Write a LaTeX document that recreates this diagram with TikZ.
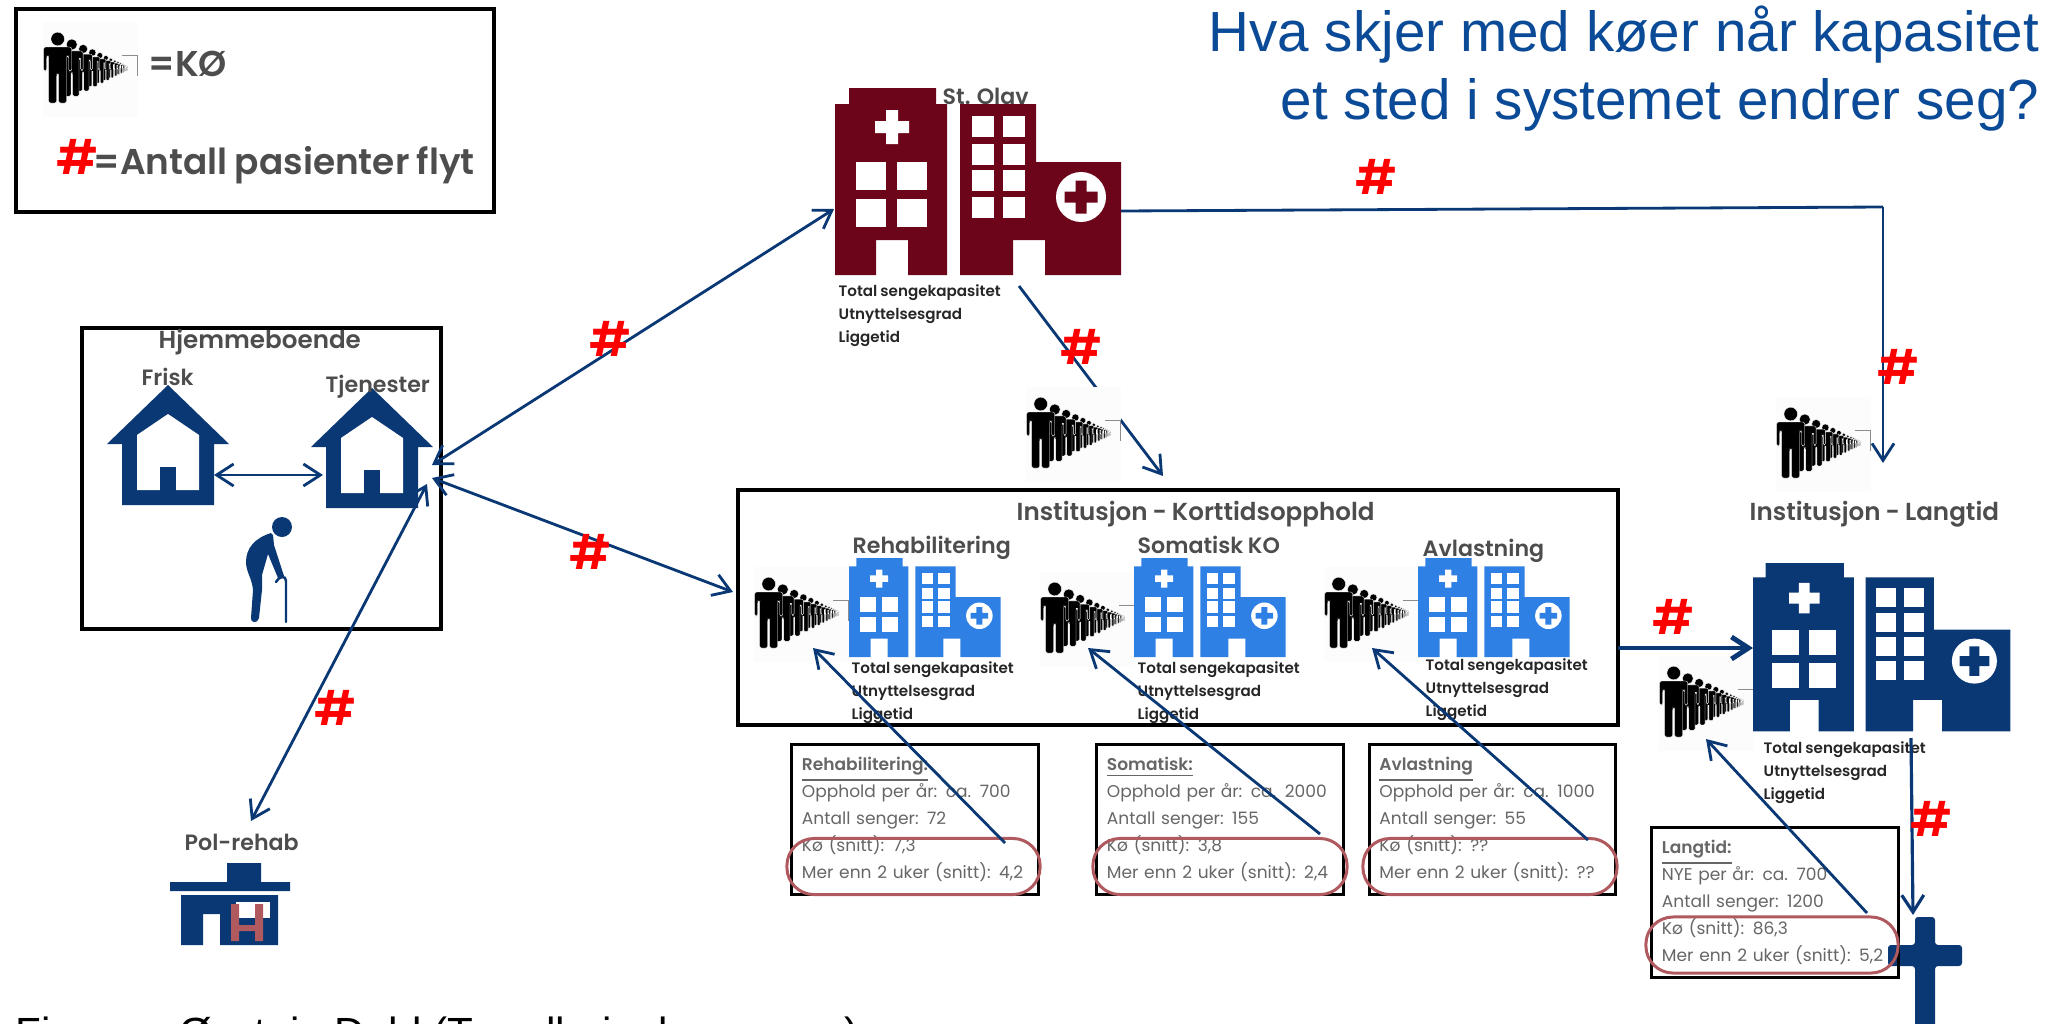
\documentclass[tikz,border=0pt]{standalone}
\usepackage{fontspec}
\setmainfont{Poppins}[WordSpace=0.8]
\newfontfamily\lblfont{Poppins SemiBold}[WordSpace=0.85]
\newfontfamily\titlefont{Liberation Sans}
\usetikzlibrary{arrows.meta}

\definecolor{olavred}{HTML}{6C0519}
\definecolor{navy}{HTML}{0A3875}
\definecolor{kortblue}{HTML}{2F80E4}
\definecolor{lblgrey}{HTML}{4D4D4D}
\definecolor{infogrey}{HTML}{666666}
\definecolor{ovalred}{HTML}{B05A5F}
\definecolor{titleblue}{HTML}{0A4A96}

\tikzset{
  lbl/.style={font=\lblfont\fontsize{6.3}{8}\selectfont, text=lblgrey, inner sep=0, anchor=base west},
  biglbl/.style={lbl, font=\lblfont\fontsize{7}{8}\selectfont},
  legendlbl/.style={lbl, font=\lblfont\fontsize{10.2}{12}\selectfont},
  sizelbl/.style={font=\lblfont\fontsize{4.3}{6.4}\selectfont, text=black!85, inner sep=0, anchor=base west, align=left},
  hash/.style={font=\lblfont\fontsize{13.5}{15}\selectfont, text=red, inner sep=0},
  framebox/.style={draw, line width=1.15pt, inner sep=0, anchor=north west},
  infobox/.style={draw, line width=.85pt, text width=2.26cm, inner xsep=.1cm, inner ysep=0, minimum height=1.5cm,
    align=left, text=infogrey, font=\fontsize{4.85}{7.68}\selectfont},
  snittoval/.style={draw=ovalred, line width=.85pt, rounded corners=.27cm, minimum height=.56cm, inner sep=0},
  flow/.style={draw=navy, line width=.8pt},
  oneway/.style={flow, -{Straight Barb[length=1.7mm,width=2.2mm]}},
  twoway/.style={flow, {Straight Barb[length=1.7mm,width=2.2mm]}-{Straight Barb[length=1.7mm,width=2.2mm]}},
  hospital/.pic={
    \fill[pic actions] (0,16) -- (14,16) -- (14,0) -- (101,0) -- (101,16) -- (112,16) -- (112,187) -- (73,187)
      -- (73,152) -- (41,152) -- (41,187) -- (0,187) -- cycle;
    \fill[pic actions] (125,16) -- (201,16) -- (201,74) -- (286,74) -- (286,187) -- (210,187) -- (210,152)
      -- (178,152) -- (178,187) -- (125,187) -- cycle;
    \fill[white] (51,22) rectangle (63,56) (40,33) rectangle (74,45);
    \foreach \wx in {21,62} \foreach \wy in {74,111} \fill[white] (\wx,\wy) rectangle ++(30,28);
    \foreach \wx in {137,168} \foreach \wy in {28,56,82,109} \fill[white] (\wx,\wy) rectangle ++(22,21);
    \fill[white] (246,109) circle [radius=25];
    \fill[pic actions] (240.5,92.5) rectangle (251.5,125.5) (229.5,103.5) rectangle (262.5,114.5);
  },
  house/.pic={
    \fill[pic actions] (0,0) -- (61,59) -- (46,59) -- (46,120) -- (-46,120) -- (-46,59) -- (-61,59) -- cycle;
    \fill[white] (0,29) -- (31,50) -- (31,105) -- (8,105) -- (8,82) -- (-8,82) -- (-8,105) -- (-31,105) -- (-31,50) -- cycle;
  },
  queue/.pic={
    \fill[black!1] (0,0) rectangle (95,95);
    \draw[black!45, line width=.25pt] (79,33) -- (94,33) -- (94,54);
    \foreach \i in {13,...,0} {
      \pgfmathsetmacro\qs{0.81^\i}
      \begin{scope}[shift={(88.7-74*\qs,46)}, scale=\qs]
        \filldraw[draw=white, line width=.1pt] (0,-29) circle [radius=6.8];
        \filldraw[draw=white, line width=.1pt, rounded corners=.02cm*\qs] (-14,-21) -- (14,-21) -- (14,3) -- (11,3) -- (11,-12)
          -- (9,-12) -- (9,35) -- (1,35) -- (1,6) -- (-1,6) -- (-1,35) -- (-9,35) -- (-9,-12) -- (-11,-12)
          -- (-11,3) -- (-14,3) -- cycle;
      \end{scope}
    }
  },
}

\begin{document}
\begin{tikzpicture}[x=0.01cm, y=-0.01cm]
  \useasboundingbox (0,0) rectangle (2051,1024);

  \node[anchor=base east, inner sep=0, align=right, text=titleblue, font=\titlefont\fontsize{16.1}{19.1}\selectfont] (title) at (2040,119)
    {Hva skjer med køer når kapasitet\\et sted i systemet endrer seg?};
  \node[anchor=base west, inner sep=0, font=\titlefont\fontsize{12}{14}\selectfont] (source) at (15,1047) {Figur av Øystein Dahl (Trondheim kommune)};

  % legend
  \node[framebox, minimum width=4.78cm, minimum height=2.03cm] (legend) at (13.5,6.5) {};
  \pic at (43,22) {queue};
  \node[legendlbl] (legendq) at (148,77) {=KØ};
  \node[hash] (legendh) at (78,157) {\#};
  \node[legendlbl] (legendf) at (93,174) {=Antall pasienter flyt};

  % home
  \node[framebox, minimum width=3.59cm, minimum height=3.01cm] (home) at (79.5,325.5) {};
  \pic[fill=navy] at (168,385) {house};
  \pic[fill=navy] at (372,388) {house};
  \fill[navy] (168,385) ++(-8,82) rectangle ++(16,23);
  \fill[navy] (372,388) ++(-8,82) rectangle ++(16,23);
  \node[biglbl] (homelbl) at (158,348) {Hjemmeboende};
  \node[lbl] (frisk) at (141,385) {Frisk};
  \node[lbl] (tjen) at (325,392) {Tjenester};
  \fill[navy] (282,527) circle [radius=10];
  \fill[navy] (271,533) .. controls (255,538) and (246,548) .. (246,562) .. controls (246,572) and (252,578) .. (253,590)
    -- (251,618) .. controls (250,623) and (258,624) .. (259,618) -- (262,590) -- (262,575) -- (268,554) -- (278,578)
    -- (284,576) -- (274,545) -- (273,535) -- cycle;
  \draw[navy, line width=.7pt, line cap=round] (276,582) .. controls (279,576) and (286,575) .. (286,581) -- (286,622);

  % grave
  \fill[navy, rounded corners=.03cm] (1915,917) -- (1935,917) -- (1935,945) -- (1962,945) -- (1962,966) -- (1935,966)
    -- (1935,1030) -- (1915,1030) -- (1915,966) -- (1888,966) -- (1888,945) -- (1915,945) -- cycle;

  % hospitals
  \node[lbl] (olavlbl) at (942,104) {St. Olav};
  \pic[fill=olavred] at (835,88) {hospital};
  \node[sizelbl] (olavsize) at (838,342) {Total sengekapasitet\\Utnyttelsesgrad\\Liggetid};

  \coordinate (olavE) at (1121,211);
  \coordinate (langcorner) at (1883,207);
  \coordinate (langtop) at (1883,463);
  \coordinate (olavS) at (1019,286);
  \coordinate (instN) at (1163,476);
  \draw[flow] (olavE) -- (langcorner);
  \draw[oneway] (langcorner) -- (langtop);
  \draw[oneway] (olavS) -- (instN);

  \pic at (1026,387) {queue};
  \pic at (1776,397) {queue};
  \pic at (754,567) {queue};
  \pic at (1040,572) {queue};
  \pic at (1324,567) {queue};
  \pic at (1659,656) {queue};

  \node[framebox, minimum width=8.8cm, minimum height=2.35cm] (inst) at (735.5,487.5) {};
  \node[biglbl] (instlbl) at (1016,520) {Institusjon - Korttidsopphold};
  \node[lbl] (rehablbl) at (852,553) {Rehabilitering};
  \node[lbl] (somlbl) at (1137,553) {Somatisk KO};
  \node[lbl] (avllbl) at (1422,556) {Avlastning};
  \node[biglbl] (langlbl) at (1749,520) {Institusjon - Langtid};
  \node[lbl] (pollbl) at (184,850) {Pol-rehab};

  \pic[fill=kortblue, scale=.53] at (849,558) {hospital};
  \pic[fill=kortblue, scale=.53] at (1134,558) {hospital};
  \pic[fill=kortblue, scale=.53] at (1418,558) {hospital};
  \pic[fill=navy, scale=.9] at (1753,563) {hospital};
  \node[sizelbl] (rehabsize) at (851,719) {Total sengekapasitet\\Utnyttelsesgrad\\Liggetid};
  \node[sizelbl] (somsize) at (1137,719) {Total sengekapasitet\\Utnyttelsesgrad\\Liggetid};
  \node[sizelbl] (avlsize) at (1425,716) {Total sengekapasitet\\Utnyttelsesgrad\\Liggetid};
  \node[sizelbl] (langsize) at (1763,799) {Total sengekapasitet\\Utnyttelsesgrad\\Liggetid};

  % pol-rehab
  \fill[navy] (227,863) rectangle (261,882) (170,882) rectangle (290,891);
  \fill[navy] (181,895) -- (278,895) -- (278,945) -- (220,945) -- (220,914) -- (203,914) -- (203,945) -- (181,945) -- cycle;
  \fill[white] (236,902) rectangle (270,918);
  \fill[ovalred] (231,904) rectangle (239,941) (255,904) rectangle (263,941) (231,925) rectangle (263,931);

  % tables
  \node[infobox] (inforehab) at (915,819.5) {{\lblfont\underline{Rehabilitering:}}\\Opphold per år: ca. 700\\Antall senger: 72\\Kø (snitt): 7,3\\Mer enn 2 uker (snitt): 4,2};
  \node[infobox] (infosom) at (1220,819.5) {{\lblfont\underline{Somatisk:}}\\Opphold per år: ca. 2000\\Antall senger: 155\\Kø (snitt): 3,8\\Mer enn 2 uker (snitt): 2,4};
  \node[infobox] (infoavl) at (1492.5,819.5) {{\lblfont\underline{Avlastning}}\\Opphold per år: ca. 1000\\Antall senger: 55\\Kø (snitt): ??\\Mer enn 2 uker (snitt): ??};
  \node[infobox] (infolang) at (1775,902.5) {{\lblfont\underline{Langtid:}}\\NYE per år: ca. 700\\Antall senger: 1200\\Kø (snitt): 86,3\\Mer enn 2 uker (snitt): 5,2};
  \node[snittoval, minimum width=2.53cm] (ovalrehab) at (913.5,866.5) {};
  \node[snittoval, minimum width=2.54cm] (ovalsom) at (1220,866.5) {};
  \node[snittoval, minimum width=2.54cm] (ovalavl) at (1490,866.5) {};
  \node[snittoval, minimum width=2.52cm] (ovallang) at (1772,945) {};

  % flows
  \coordinate (hometop) at (432,465);
  \coordinate (olavW) at (834,209);
  \coordinate (homemid) at (432,478);
  \coordinate (instW) at (733,592);
  \coordinate (friskE) at (214,475);
  \coordinate (tjenW) at (323,475);
  \coordinate (homelow) at (427,484);
  \coordinate (polN) at (251,821);
  \coordinate (rehabfrom) at (1005,843);
  \coordinate (rehabq) at (813,648);
  \coordinate (somfrom) at (1320,834);
  \coordinate (somq) at (1088,648);
  \coordinate (avlfrom) at (1588,840);
  \coordinate (avlq) at (1372,648);
  \coordinate (langfrom) at (1867,913);
  \coordinate (langq) at (1706,739);
  \coordinate (instE) at (1618,648);
  \coordinate (langW) at (1753,648);
  \coordinate (langS) at (1911,738);
  \coordinate (graveN) at (1913,915);

  \draw[twoway] (hometop) -- (olavW);
  \draw[twoway] (homemid) -- (instW);
  \draw[twoway] (friskE) -- (tjenW);
  \draw[twoway] (homelow) -- (polN);
  \draw[oneway] (rehabfrom) -- (rehabq);
  \draw[oneway] (somfrom) -- (somq);
  \draw[oneway] (avlfrom) -- (avlq);
  \draw[oneway] (langfrom) -- (langq);
  \draw[oneway, line width=1.4pt] (instE) -- (langW);
  \draw[oneway, line width=.9pt] (langS) -- (graveN);

  \node[hash] (h1) at (611,339) {\#};
  \node[hash] (h2) at (591,552) {\#};
  \node[hash] (h3) at (336,708) {\#};
  \node[hash] (h4) at (1377,177) {\#};
  \node[hash] (h5) at (1082,347) {\#};
  \node[hash] (h6) at (1899,367) {\#};
  \node[hash] (h7) at (1674,617) {\#};
  \node[hash] (h8) at (1932,819) {\#};
\end{tikzpicture}
\end{document}
